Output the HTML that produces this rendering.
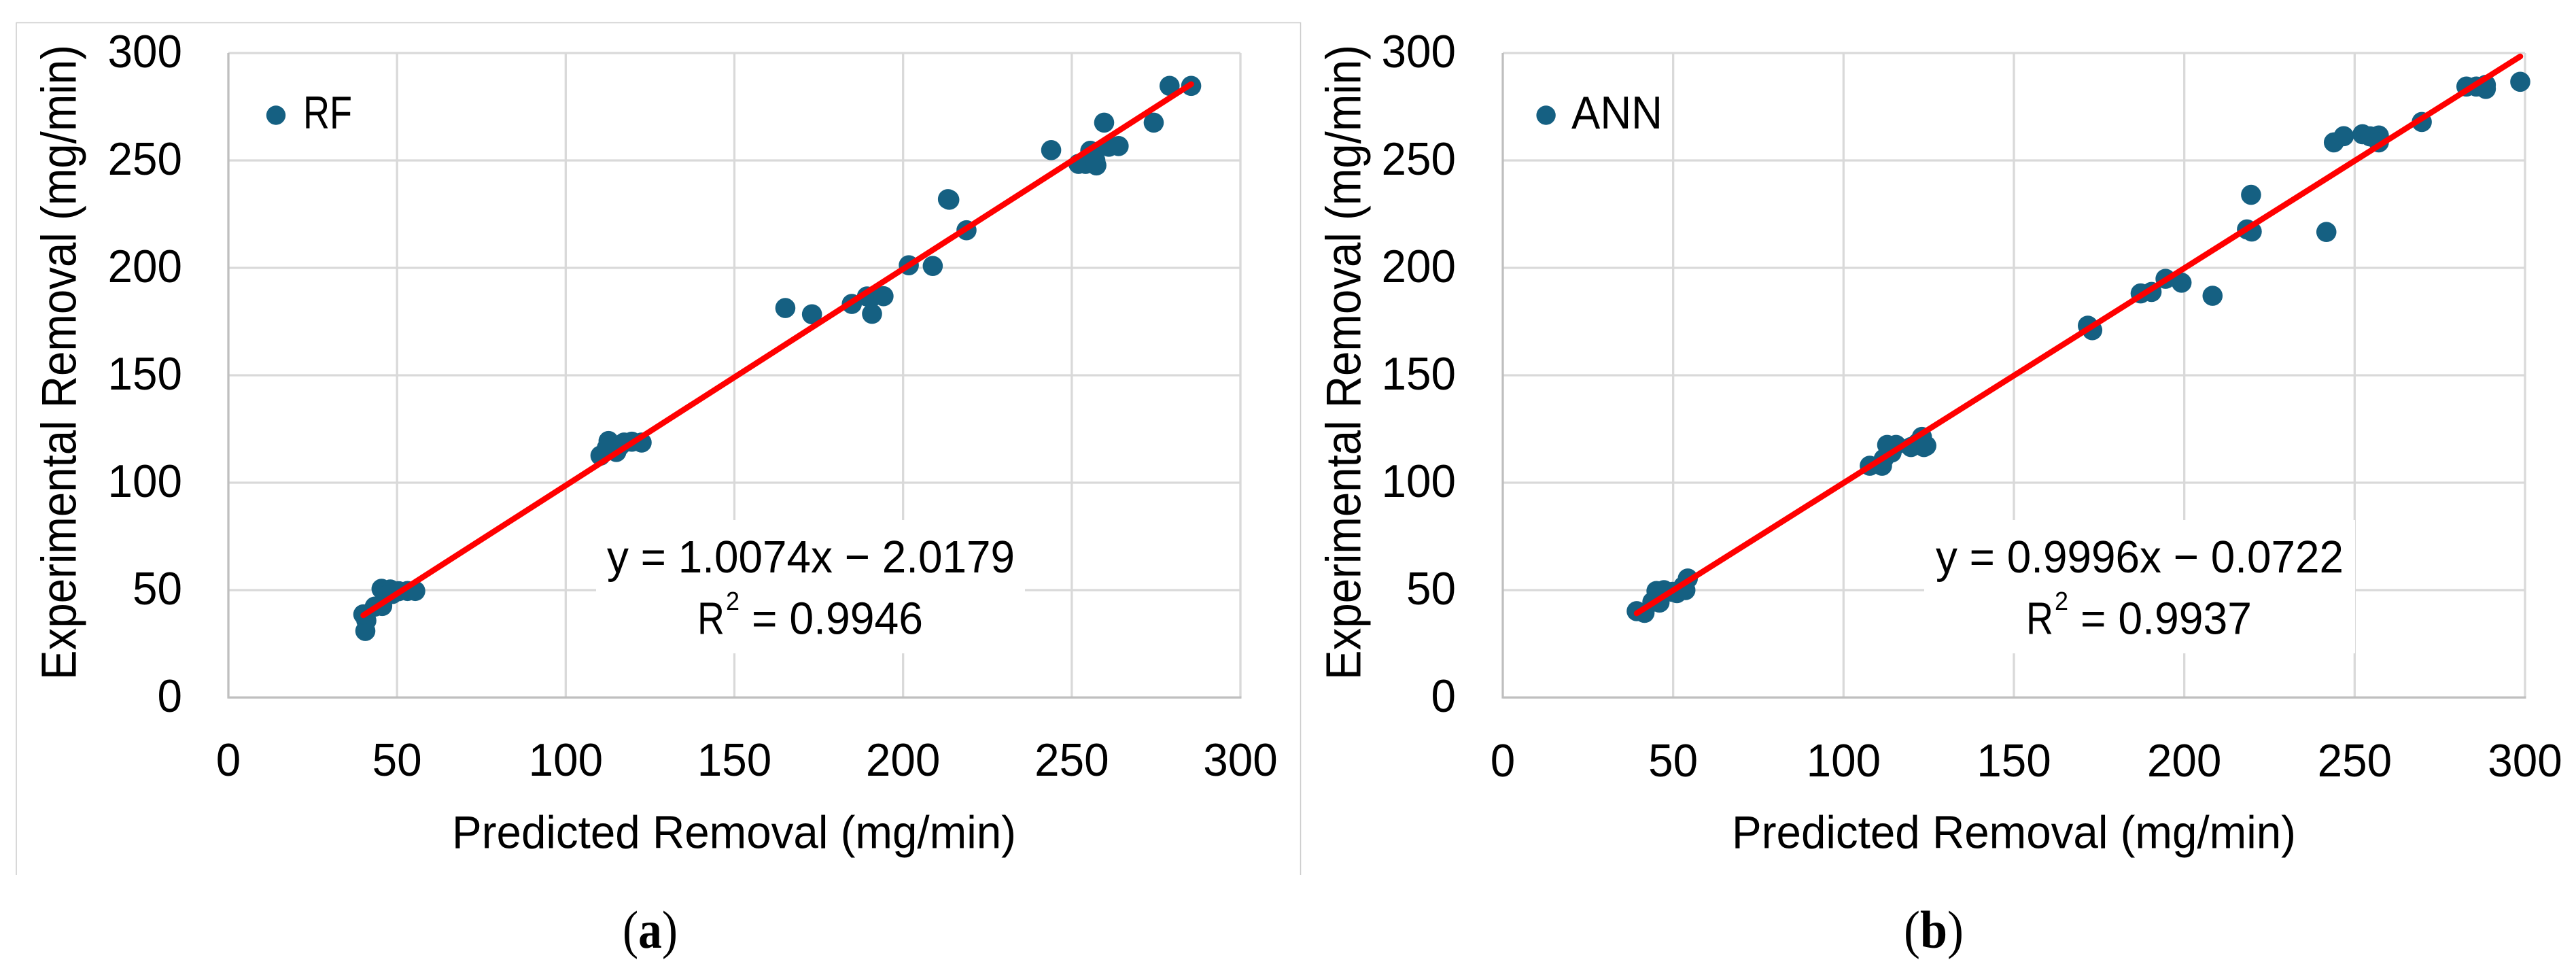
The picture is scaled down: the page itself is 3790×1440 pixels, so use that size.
<!DOCTYPE html>
<html lang="en">
<head>
<meta charset="utf-8">
<title>Predicted vs experimental removal: RF and ANN</title>
<style>
html,body{margin:0;padding:0;background:#fff;}
body{width:3790px;height:1440px;overflow:hidden;}
svg{display:block;}
text{font-family:"Liberation Sans",sans-serif;fill:#000;}
.cap{font-family:"Liberation Serif",serif;}
</style>
</head>
<body>
<svg id="figure" xmlns="http://www.w3.org/2000/svg" width="3790" height="1440" viewBox="0 0 3790 1440">
  <rect x="0" y="0" width="3790" height="1440" fill="#fff"/>
  <path d="M24 1287V33.5H1913.5V1287M1913.5 33.5" fill="none" stroke="#ccc" stroke-width="1.5"/>
  <g id="panel-a"></g>
  <g id="panel-b"></g>
  <text class="cap" x="916" y="1394" font-size="78" textLength="81" lengthAdjust="spacingAndGlyphs">(<tspan font-weight="bold">a</tspan>)</text>
  <text class="cap" x="2801" y="1394" font-size="78" textLength="88" lengthAdjust="spacingAndGlyphs">(<tspan font-weight="bold">b</tspan>)</text>
</svg>
<script>
const xTickValues = [0, 50, 100, 150, 200, 250, 300];
const yTickValues = [0, 50, 100, 150, 200, 250, 300];

const rfPredicted = [40.6, 40.9, 40, 43.4, 45.6, 45.4, 48, 50.5, 53.1, 55.4, 46.7, 48.6,
  110.3, 112.7, 115, 117.3, 119.6, 122.5, 112.2, 116,
  165.1, 173, 184.8, 189.3, 191, 194.2, 190.8, 201.7, 208.8, 213.3, 213.7, 218.8,
  243.9, 252, 254.1, 255.5, 257.3, 257, 261, 263.9, 259.6, 274.3, 279, 285.4];
const rfExperimental = [31, 35.8, 38.7, 42.3, 42.6, 50.6, 50.3, 49.5, 49.6, 49.6, 47.4, 48.2,
  112.6, 119.4, 114.3, 118.7, 119.1, 118.7, 116.2, 117,
  181.3, 178.4, 183.2, 186.7, 186.7, 186.8, 178.6, 201.2, 200.9, 232, 231.7, 217.5,
  254.8, 248.4, 248.4, 254.5, 247.7, 250, 256.4, 256.7, 267.6, 267.6, 284.7, 284.7];

const annPredicted = [39.3, 41.6, 43.9, 46, 45.1, 47.3, 49.8, 51.1, 53.6, 54.3, 53,
  107.7, 111.3, 111.8, 112.8, 115.4, 114.1, 119.8, 123, 123.6, 121.7, 124.3,
  171.7, 173, 187.2, 190.4, 194.5, 199.2, 208.3, 219.6, 218.4, 219.8, 241.7,
  243.9, 246.8, 252.3, 254.5, 257.1, 257.1, 269.7, 282.8, 285.7, 288.5, 288.5, 298.6];
const annExperimental = [40.2, 39.4, 44.5, 44.2, 49.6, 50, 49.2, 48.6, 50, 55.4, 51.8,
  107.9, 107.9, 111.1, 117.6, 117.6, 114, 116.6, 121.3, 116.6, 118.4, 117.2,
  173.1, 171, 188.1, 188.8, 194.9, 193.1, 187, 234, 217.9, 216.9, 216.7,
  258.4, 261.3, 262.2, 261.2, 261.6, 258.4, 267.9, 284.4, 284.4, 285.2, 283.3, 286.6];

const rfFit = [1.0074, -2.0179];
const annFit = [0.9996, -0.0722];

const NS = 'http://www.w3.org/2000/svg';

function make(parent, tag, attrs, content) {
  const el = document.createElementNS(NS, tag);
  for (const k in attrs) el.setAttribute(k, attrs[k]);
  if (content !== undefined) el.textContent = content;
  parent.appendChild(el);
  return el;
}

function drawPanel(root, cfg, xs, ys, fit) {
  const xMax = xTickValues[xTickValues.length - 1];
  const yMax = yTickValues[yTickValues.length - 1];
  const xScale = v => cfg.x0 + (cfg.x1 - cfg.x0) * v / xMax;
  const yScale = v => cfg.y0 + (cfg.y1 - cfg.y0) * v / yMax;

  // vertical gridlines + x tick labels
  xTickValues.forEach(t => {
    if (t > 0) {
      const g = make(root, 'line', {x1: xScale(t), x2: xScale(t), y1: cfg.y1, y2: cfg.y0, stroke: '#d9d9d9', 'stroke-width': 3.3});
      
      
    }
    const s = String(t);
    const lab = make(root, 'text', {x: xScale(t), y: cfg.xTickY, 'font-size': 68, 'text-anchor': 'middle', textLength: s.length * 36.5, lengthAdjust: 'spacingAndGlyphs'}, s);
    
    
  });

  // horizontal gridlines + y tick labels
  yTickValues.forEach(t => {
    if (t > 0) {
      const g = make(root, 'line', {x1: cfg.x0, x2: cfg.x1, y1: yScale(t), y2: yScale(t), stroke: '#d9d9d9', 'stroke-width': 3.3});
      
      
    }
    const s = String(t);
    const lab = make(root, 'text', {x: cfg.yTickRight, y: yScale(t) + 21, 'font-size': 68, 'text-anchor': 'end', textLength: s.length * 36.5, lengthAdjust: 'spacingAndGlyphs'}, s);
    
    
  });

  // axis lines
  const ax = make(root, 'line', {x1: cfg.x0, x2: cfg.x0, y1: cfg.y1, y2: cfg.y0 + 1.5, stroke: '#bfbfbf', 'stroke-width': 3.3});
  
  
  const bx = make(root, 'line', {x1: cfg.x0, x2: cfg.x1 + 1.5, y1: cfg.y0, y2: cfg.y0, stroke: '#bfbfbf', 'stroke-width': 3.3});
  
  

  // scatter points
  xs.forEach((v, i) => {
    const c = make(root, 'circle', {cx: xScale(v), cy: yScale(ys[i]), r: 14.8, fill: '#156082'});
    
    
  });

  // trend line from fit and data extent
  const lo = Math.min.apply(null, xs), hi = Math.max.apply(null, xs);
  const tl = make(root, 'line', {x1: xScale(lo), y1: yScale(fit[0] * lo + fit[1]), x2: xScale(hi), y2: yScale(fit[0] * hi + fit[1]), stroke: '#ff0000', 'stroke-width': 8.5, 'stroke-linecap': 'round'});
  
  

  // equation label
  const box = make(root, 'rect', {x: cfg.boxX, y: 765, width: cfg.boxW, height: 196, fill: '#fff'});
  
  
  const eq = make(root, 'text', {x: cfg.eqX, y: 842, 'font-size': 67, textLength: 600, lengthAdjust: 'spacingAndGlyphs'}, cfg.eq);
  
  
  const r = make(root, 'text', {x: cfg.rX, y: 932.6, 'font-size': 67, textLength: 40, lengthAdjust: 'spacingAndGlyphs'}, 'R');
  
  
  const sup = make(root, 'text', {x: cfg.rX + 42, y: 897, 'font-size': 38, textLength: 20, lengthAdjust: 'spacingAndGlyphs'}, '2');
  
  
  const rv = make(root, 'text', {x: cfg.rX + 80, y: 932.6, 'font-size': 67, textLength: 252, lengthAdjust: 'spacingAndGlyphs'}, cfg.r2);
  
  

  // legend
  const ld = make(root, 'circle', {cx: cfg.legDotX, cy: 169.5, r: 14.2, fill: '#156082'});
  
  
  const lt = make(root, 'text', {x: cfg.legX, y: 189, 'font-size': 68, textLength: cfg.legW, lengthAdjust: 'spacingAndGlyphs'}, cfg.legend);
  
  

  // axis titles
  const xt = make(root, 'text', {x: cfg.xTitleX, y: 1247.5, 'font-size': 68, textLength: 830, lengthAdjust: 'spacingAndGlyphs'}, 'Predicted Removal (mg/min)');
  
  
  const yt = make(root, 'text', {transform: 'translate(' + cfg.yTitleX + ',1000) rotate(-90)', x: 0, y: 0, 'font-size': 72, textLength: 934, lengthAdjust: 'spacingAndGlyphs'}, 'Experimental Removal (mg/min)');
  
  
}

drawPanel(document.getElementById('panel-a'), {
  x0: 336, x1: 1825, y0: 1026, y1: 78, xTickY: 1141, yTickRight: 268,
  boxX: 877, boxW: 631, eqX: 893, rX: 1026,
  eq: 'y = 1.0074x \u2212 2.0179', r2: '= 0.9946',
  legDotX: 406, legX: 446, legW: 72, legend: 'RF',
  xTitleX: 665, yTitleX: 111.6
}, rfPredicted, rfExperimental, rfFit);

drawPanel(document.getElementById('panel-b'), {
  x0: 2211, x1: 3715, y0: 1026, y1: 78, xTickY: 1142, yTickRight: 2142,
  boxX: 2831, boxW: 634, eqX: 2848, rX: 2981,
  eq: 'y = 0.9996x \u2212 0.0722', r2: '= 0.9937',
  legDotX: 2274.6, legX: 2312, legW: 134, legend: 'ANN',
  xTitleX: 2548, yTitleX: 2001.6
}, annPredicted, annExperimental, annFit);
</script>
</body>
</html>
